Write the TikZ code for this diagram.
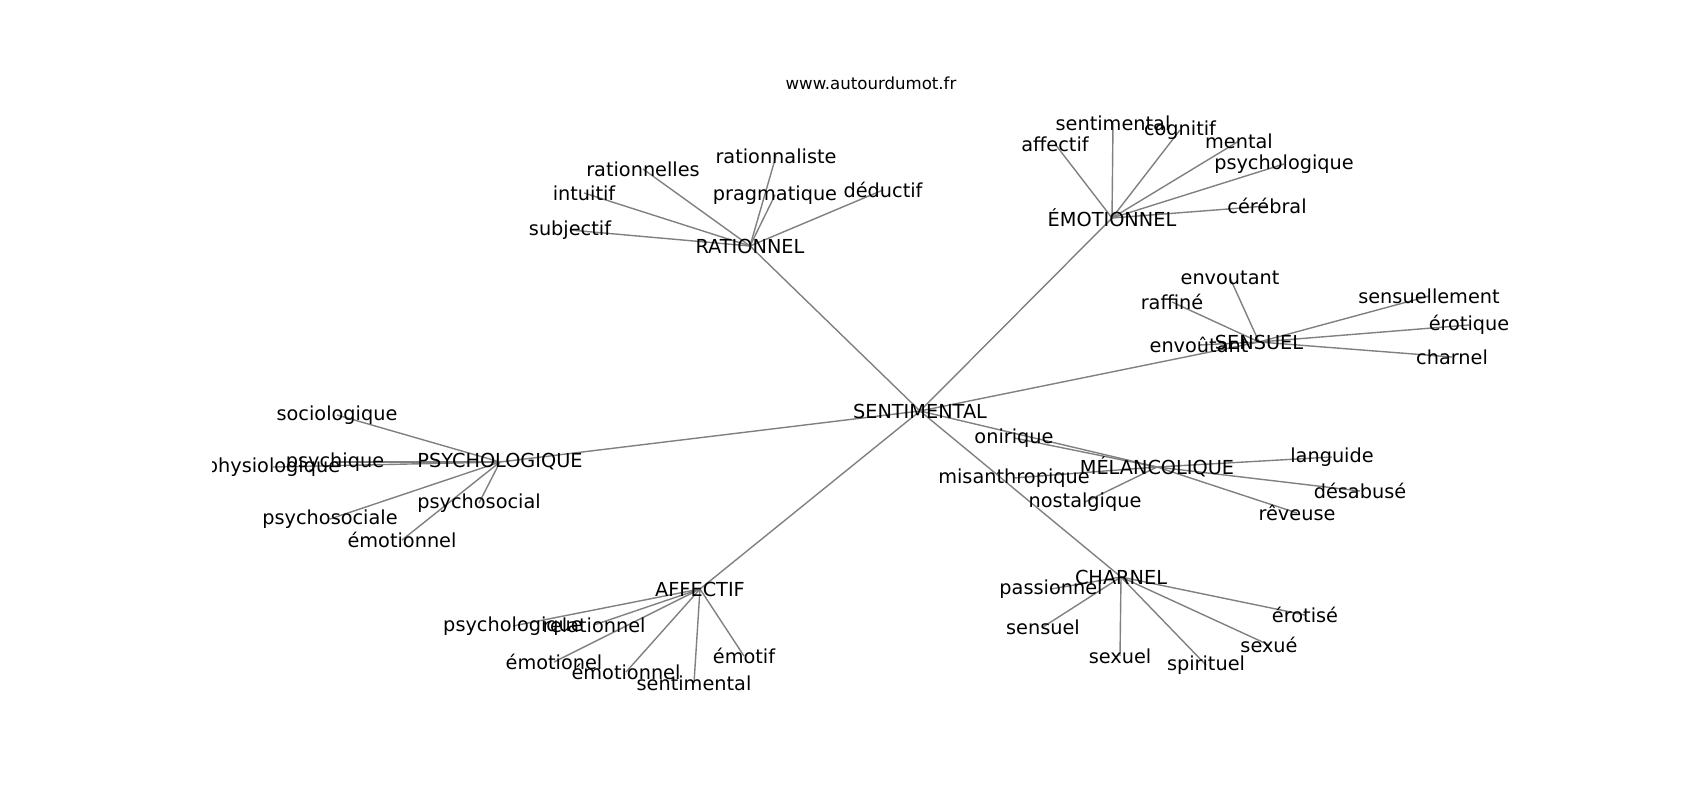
\documentclass[tikz,border=0pt]{standalone}
\usepackage{fontspec}
\setmainfont{DejaVu Sans}
\usepackage{tikz}
\definecolor{ink}{HTML}{000000}
\definecolor{edgegray}{HTML}{808080}
\pgfdeclarelayer{bg}
\pgfsetlayers{bg,main}

\begin{document}
\begin{tikzpicture}[x=1pt, y=-1pt,
  word/.style={font=\fontsize{19.3}{23}\selectfont, text=ink, inner sep=0pt},
  link/.style={color=edgegray, line width=1.4pt}]
\useasboundingbox (0,0) rectangle (1700,800);
\node[font=\fontsize{16.6}{20}\selectfont, text=ink, inner sep=0pt] (site) at (871,83) {www.autourdumot.fr};
% hubs
\node[word] (sent) at (920,411) {SENTIMENTAL};
\node[word] (rat) at (750,246) {RATIONNEL};
\node[word] (emo) at (1112,218) {ÉMOTIONNEL};
\node[word] (sens) at (1259,342) {SENSUEL};
\node[word] (psy) at (500,462) {PSYCHOLOGIQUE};
\node[word] (mel) at (1157,467) {MÉLANCOLIQUE};
\node[word] (aff) at (700,589) {AFFECTIF};
\node[word] (cha) at (1121,577) {CHARNEL};
% rationnel
\node[word] (ratnelles) at (643,169) {rationnelles};
\node[word] (ratliste) at (776,156) {rationnaliste};
\node[word] (intuitif) at (584,193) {intuitif};
\node[word] (pragma) at (775,195) {pragmatique};
\node[word] (deductif) at (883,190) {déductif};
\node[word] (subjectif) at (570,230) {subjectif};
% emotionnel
\node[word] (emosent) at (1113,123) {sentimental};
\node[word] (cognitif) at (1180,130) {cognitif};
\node[word] (emoaff) at (1055,144) {affectif};
\node[word] (mental) at (1239,141) {mental};
\node[word] (emopsy) at (1284,164) {psychologique};
\node[word] (cerebral) at (1267,206) {cérébral};
% sensuel
\node[word] (envout) at (1230,278) {envoutant};
\node[word] (raffine) at (1172,302) {raffiné};
\node[word] (envoutc) at (1199,345) {envoûtant};
\node[word] (sensment) at (1429,296) {sensuellement};
\node[word] (erotique) at (1469,325) {érotique};
\node[word] (senscha) at (1452,357) {charnel};
% psychologique
\node[word] (socio) at (337,415) {sociologique};
\node[word] (psychique) at (335,462) {psychique};
\begin{scope}
\clip (212.5,96) rectangle (1530,712);
\node[word] (physio) at (273,467) {physiologique};
\end{scope}
\node[word] (psysocial) at (479,503) {psychosocial};
\node[word] (psysociale) at (330,519) {psychosociale};
\node[word] (psyemo) at (402,540) {émotionnel};
% melancolique
\node[word] (onirique) at (1014,438) {onirique};
\node[word] (misanth) at (1014,478) {misanthropique};
\node[word] (nostalg) at (1085,502) {nostalgique};
\node[word] (languide) at (1332,457) {languide};
\node[word] (desabuse) at (1360,491) {désabusé};
\node[word] (reveuse) at (1297,513) {rêveuse};
% affectif
\node[word] (affpsy) at (513,626) {psychologique};
\node[word] (relation) at (594,625) {relationnel};
\node[word] (emotionel) at (554,662) {émotionel};
\node[word] (affemo) at (626,672) {émotionnel};
\node[word] (affsent) at (694,683) {sentimental};
\node[word] (emotif) at (744,656) {émotif};
% charnel
\node[word] (passion) at (1051,589) {passionnel};
\node[word] (chasens) at (1043,627) {sensuel};
\node[word] (sexuel) at (1120,656) {sexuel};
\node[word] (spirituel) at (1206,665) {spirituel};
\node[word] (sexue) at (1269,645) {sexué};
\node[word] (erotise) at (1305,615) {érotisé};
% edges
\begin{pgfonlayer}{bg}
\foreach \hub in {rat,emo,sens,psy,mel,aff,cha}{\draw[link] (sent.center) -- (\hub.center);}
\foreach \leaf in {ratnelles,ratliste,intuitif,pragma,deductif,subjectif}{\draw[link] (rat.center) -- (\leaf.center);}
\foreach \leaf in {emosent,cognitif,emoaff,mental,emopsy,cerebral}{\draw[link] (emo.center) -- (\leaf.center);}
\foreach \leaf in {envout,raffine,envoutc,sensment,erotique,senscha}{\draw[link] (sens.center) -- (\leaf.center);}
\foreach \leaf in {socio,psychique,physio,psysocial,psysociale,psyemo}{\draw[link] (psy.center) -- (\leaf.center);}
\foreach \leaf in {onirique,misanth,nostalg,languide,desabuse,reveuse}{\draw[link] (mel.center) -- (\leaf.center);}
\foreach \leaf in {affpsy,relation,emotionel,affemo,affsent,emotif}{\draw[link] (aff.center) -- (\leaf.center);}
\foreach \leaf in {passion,chasens,sexuel,spirituel,sexue,erotise}{\draw[link] (cha.center) -- (\leaf.center);}
\end{pgfonlayer}
\end{tikzpicture}
\end{document}
